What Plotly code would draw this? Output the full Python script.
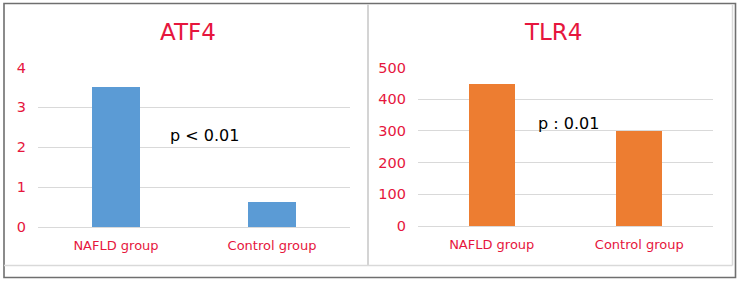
import plotly.graph_objects as go

categories = ["NAFLD group", "Control group"]
atf4_values = [3.52, 0.63]
tlr4_values = [450, 300]
atf4_ticks = [0, 1, 2, 3, 4]
tlr4_ticks = [0, 100, 200, 300, 400, 500]

W, H = 739, 282
RED = "#e6163d"
GRID = "#d9d9d9"
FONT = "DejaVu Sans"


def px(x):
    return x / W


def py(y):
    return 1 - y / H


fig = go.Figure()
fig.add_trace(go.Bar(x=categories, y=atf4_values, marker_color="#5b9bd5",
                     width=0.31, xaxis="x", yaxis="y", showlegend=False))
fig.add_trace(go.Bar(x=categories, y=tlr4_values, marker_color="#ed7d31",
                     width=0.31, xaxis="x2", yaxis="y2", showlegend=False))

xcommon = dict(showgrid=False, zeroline=False, showline=False, ticks="", automargin=False,
               tickfont=dict(family=FONT, size=13, color=RED), ticklabelstandoff=9)
ycommon = dict(showgrid=True, gridcolor=GRID, gridwidth=1, zeroline=True, automargin=False,
               zerolinecolor=GRID, zerolinewidth=1, showline=False, ticks="",
               tickfont=dict(family=FONT, size=14.5, color=RED), ticklabelstandoff=11)

fig.update_layout(
    template="none",
    width=W, height=H, margin=dict(l=0, r=0, t=0, b=0, pad=0), autosize=False,
    paper_bgcolor="white", plot_bgcolor="white", bargap=0,
    xaxis=dict(domain=[px(38), px(350)], anchor="y", **xcommon),
    yaxis=dict(domain=[py(227), py(67.5)], anchor="x", range=[0, 4.001],
               tickvals=atf4_ticks, **ycommon),
    xaxis2=dict(domain=[px(418), px(713)], anchor="y2", **xcommon),
    yaxis2=dict(domain=[py(226), py(67.5)], anchor="x2", range=[0, 500.1],
                tickvals=tlr4_ticks, **ycommon),
)

# frames
fig.add_shape(type="rect", xref="paper", yref="paper", x0=px(4), x1=px(735.5),
              y0=py(277.5), y1=py(3.5), line=dict(color="#6f6f6f", width=1.6))
fig.add_shape(type="line", xref="paper", yref="paper", x0=px(368), x1=px(368),
              y0=py(265.5), y1=py(4), line=dict(color="#d4d4d4", width=2))
fig.add_shape(type="line", xref="paper", yref="paper", x0=px(4), x1=px(732.5),
              y0=py(265.5), y1=py(265.5), line=dict(color="#d9d9d9", width=1.5))
fig.add_shape(type="line", xref="paper", yref="paper", x0=px(732.5), x1=px(732.5),
              y0=py(265.5), y1=py(4), line=dict(color="#d9d9d9", width=1.5))

ann = dict(xref="paper", yref="paper", showarrow=False, xanchor="center", yanchor="middle")
# titles
fig.add_annotation(text="ATF4", x=px(188), y=py(32),
                   font=dict(family=FONT, size=23, color=RED), **ann)
fig.add_annotation(text="TLR4", x=px(553), y=py(32),
                   font=dict(family=FONT, size=23, color=RED), **ann)
# p-values
fig.add_annotation(text="p < 0.01", x=px(204), y=py(135),
                   font=dict(family=FONT, size=16, color="black"), **ann)
fig.add_annotation(text="p : 0.01", x=px(568), y=py(124),
                   font=dict(family=FONT, size=16, color="black"), **ann)

fig.write_html("out.html")
